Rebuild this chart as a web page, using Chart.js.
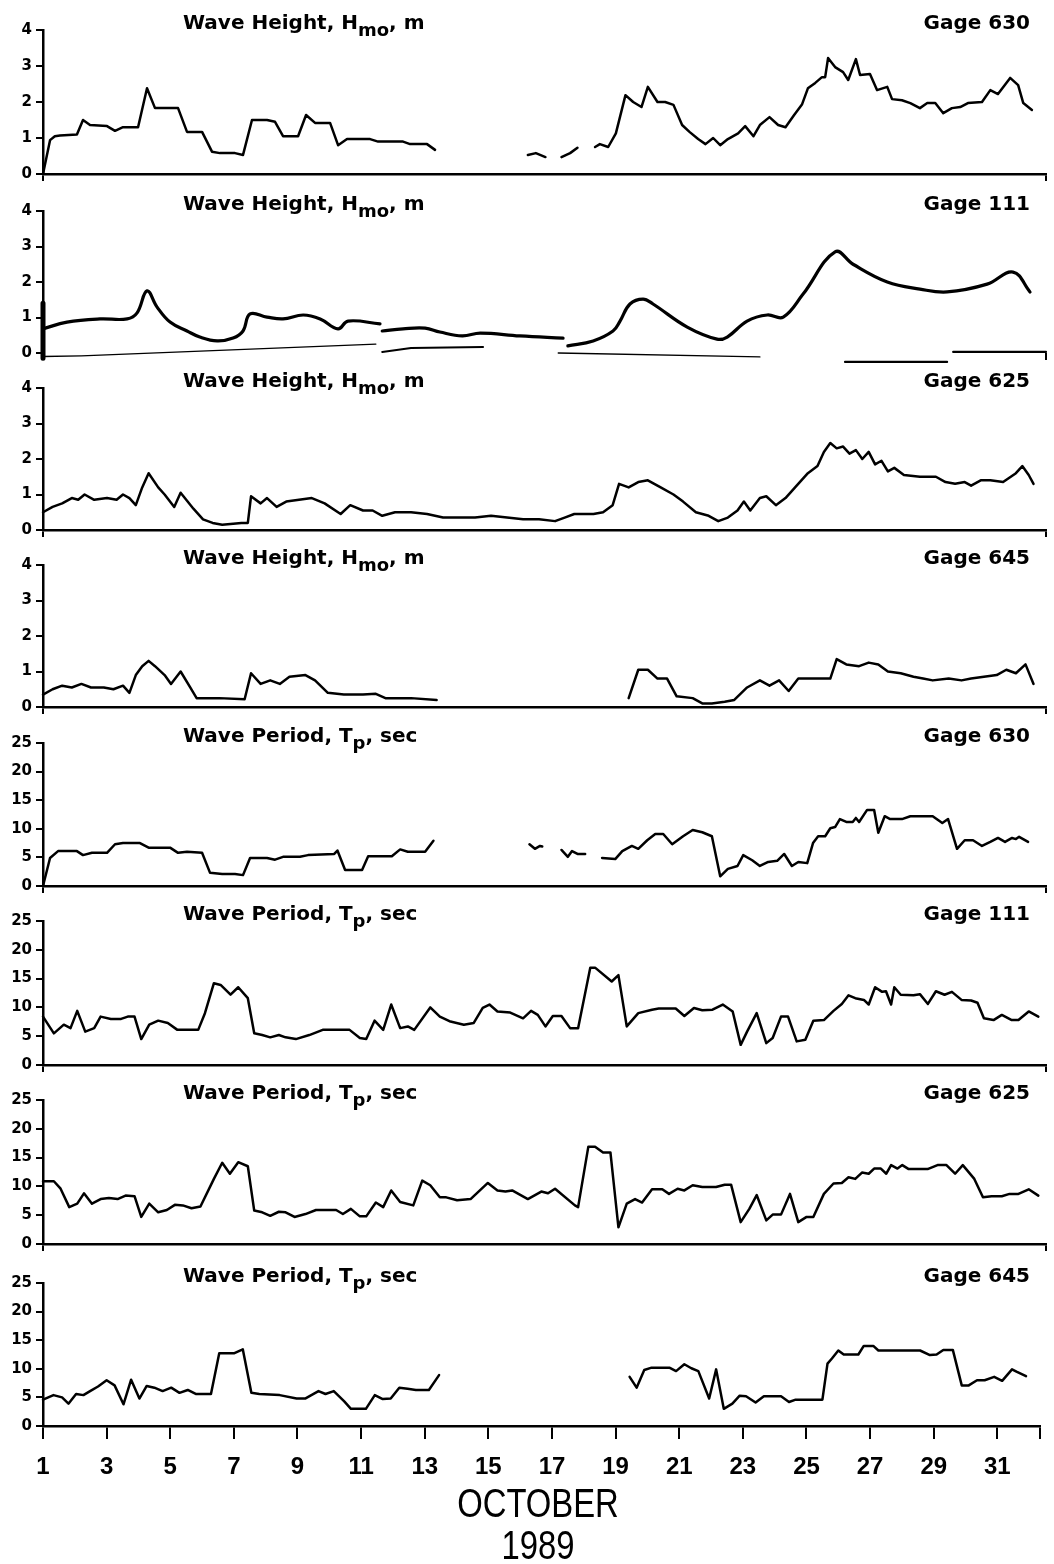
<!DOCTYPE html>
<html>
<head>
<meta charset="utf-8">
<script src="https://cdn.jsdelivr.net/npm/chart.js@4.4.0/dist/chart.umd.min.js"></script>
<style>
html, body { margin: 0; padding: 0; background: #fff; }
#page { position: relative; width: 1054px; height: 1564px; overflow: hidden; }
#page canvas { position: absolute; left: 0; }
.ttl, .gage { position: absolute; font-family: 'DejaVu Sans'; font-weight: bold; font-size: 20px; line-height: 1; white-space: nowrap; color: #000; }
.ttl sub { font-size: 18px; vertical-align: -7px; line-height: 0; }
.gage { right: 24px; }
.month { position: absolute; left: 388px; width: 300px; text-align: center; font-family: 'Liberation Sans'; font-size: 40px; line-height: 1; color: #000; transform: scaleX(0.82); transform-origin: 150px 0; }
</style>
</head>
<body>
<div id="page"></div>
<script>
// tick values
const DAY_TICKS = [1, 3, 5, 7, 9, 11, 13, 15, 17, 19, 21, 23, 25, 27, 29, 31];
const HEIGHT_TICKS = [0, 1, 2, 3, 4];
const PERIOD_TICKS = [0, 5, 10, 15, 20, 25];
const XMAX = 32.34;

// [day of October, value]; null = no data
const H630 = [[1,0],[1.22,0.94],[1.37,1.05],[1.53,1.07],[2.06,1.1],[2.25,1.5],[2.47,1.36],[3.0,1.33],[3.25,1.2],[3.5,1.3],[3.97,1.3],[4.25,2.38],[4.5,1.83],[5.22,1.83],[5.5,1.17],[5.97,1.17],[6.28,0.62],[6.53,0.58],[7.0,0.58],[7.25,0.53],[7.53,1.5],[8.0,1.5],[8.25,1.45],[8.5,1.05],[8.97,1.05],[9.22,1.64],[9.5,1.42],[9.97,1.42],[10.22,0.8],[10.5,0.97],[11.22,0.97],[11.47,0.9],[12.25,0.9],[12.47,0.83],[13.0,0.83],[13.25,0.67],[14,null],
  [16.15,0.53],[16.4,0.58],[16.7,0.47],[17,null],[17.2,0.47],[17.47,0.58],[17.7,0.73],[18,null],
  [18.25,0.75],[18.4,0.83],[18.66,0.75],[18.9,1.13],[19.2,2.19],[19.44,2.0],[19.7,1.86],[19.9,2.42],[20.2,2.0],[20.44,2.0],[20.7,1.92],[20.97,1.36],[21.2,1.17],[21.47,0.97],[21.7,0.83],[21.94,1.0],[22.16,0.8],[22.4,0.97],[22.72,1.13],[22.94,1.33],[23.2,1.05],[23.4,1.36],[23.7,1.58],[23.97,1.36],[24.2,1.3],[24.47,1.64],[24.72,1.94],[24.9,2.38],[25.13,2.53],[25.34,2.69],[25.44,2.69],[25.53,3.22],[25.75,2.97],[26.0,2.83],[26.16,2.61],[26.4,3.19],[26.53,2.75],[26.84,2.78],[27.06,2.33],[27.38,2.42],[27.53,2.08],[27.84,2.05],[28.1,1.97],[28.4,1.83],[28.63,1.97],[28.88,1.97],[29.13,1.69],[29.4,1.83],[29.66,1.86],[29.9,1.97],[30.34,2.0],[30.6,2.33],[30.84,2.22],[31.22,2.67],[31.47,2.47],[31.63,1.97],[31.9,1.78]];

const H111 = [[1.0,0.68],[1.75,0.87],[2.78,0.96],[3.63,0.96],[3.94,1.13],[4.25,1.75],[4.56,1.3],[4.97,0.87],[5.5,0.62],[5.9,0.45],[6.44,0.34],[6.94,0.42],[7.25,0.62],[7.47,1.1],[8.0,1.01],[8.5,0.96],[9.13,1.07],[9.66,0.96],[10.22,0.68],[10.53,0.9],[11.53,0.82],[11.56,null],
  [11.6,0.62],[12.25,0.68],[12.94,0.7],[13.4,0.59],[14.1,0.48],[14.66,0.56],[15.9,0.48],[17.25,0.42],[17.3,null],
  [17.4,0.2],[18.19,0.34],[18.81,0.62],[19.03,0.9],[19.34,1.38],[19.75,1.52],[20.06,1.38],[21.13,0.73],[22.06,0.39],[22.38,0.45],[23.0,0.9],[23.63,1.07],[24.13,1.01],[24.75,1.66],[25.75,2.85],[26.31,2.5],[27.38,2.0],[28.4,1.8],[29.25,1.72],[30.5,1.94],[31.31,2.28],[31.84,1.72]];
// broken baseline pieces of the Gage 111 trace
const H111_BASE_A = [[1,-0.1],[2.2,-0.08],[11.4,0.25]];
const H111_BASE_B = [[11.6,0.03],[12.5,0.14],[14.75,0.17]];
const H111_BASE_C = [[17.1,0.0],[23.4,-0.11]];
const H111_BASE_D = [[26.06,-0.25],[29.25,-0.25]];
const H111_BASE_E = [[29.44,0.03],[32.34,0.03]];
const H111_BLOB = [[1,1.4],[1,-0.15]];

const H625 = [[1,0.5],[1.3,0.65],[1.6,0.75],[1.9,0.9],[2.1,0.85],[2.3,1.0],[2.6,0.85],[3.0,0.9],[3.3,0.85],[3.5,1.0],[3.7,0.9],[3.9,0.7],[4.1,1.2],[4.3,1.6],[4.6,1.2],[4.8,1.0],[5.1,0.65],[5.3,1.05],[5.7,0.6],[6.0,0.3],[6.3,0.2],[6.6,0.15],[7.2,0.2],[7.4,0.2],[7.5,0.95],[7.8,0.75],[8.0,0.9],[8.3,0.65],[8.6,0.8],[9.0,0.85],[9.4,0.9],[9.8,0.75],[10.3,0.45],[10.6,0.7],[11.0,0.55],[11.3,0.55],[11.6,0.4],[12.0,0.5],[12.5,0.5],[13.0,0.45],[13.5,0.35],[14.0,0.35],[14.5,0.35],[15.0,0.4],[15.5,0.35],[16.0,0.3],[16.5,0.3],[17.0,0.25],[17.3,0.35],[17.6,0.45],[18.2,0.45],[18.5,0.5],[18.8,0.7],[19.0,1.3],[19.3,1.2],[19.6,1.35],[19.9,1.4],[20.3,1.2],[20.7,1.0],[21.0,0.8],[21.4,0.5],[21.8,0.4],[22.1,0.25],[22.4,0.35],[22.7,0.55],[22.9,0.8],[23.1,0.55],[23.4,0.9],[23.6,0.95],[23.9,0.7],[24.2,0.9],[24.5,1.2],[24.9,1.6],[25.2,1.8],[25.4,2.2],[25.6,2.45],[25.8,2.3],[26.0,2.35],[26.2,2.15],[26.4,2.25],[26.6,2.0],[26.8,2.2],[27.0,1.85],[27.2,1.95],[27.4,1.65],[27.6,1.75],[27.9,1.55],[28.4,1.5],[28.9,1.5],[29.2,1.35],[29.5,1.3],[29.8,1.35],[30.0,1.25],[30.3,1.4],[30.6,1.4],[31.0,1.35],[31.4,1.6],[31.6,1.8],[31.8,1.55],[31.95,1.3]];

const H645 = [[1.0,0.35],[1.3,0.5],[1.6,0.6],[1.9,0.55],[2.2,0.65],[2.5,0.55],[2.9,0.55],[3.2,0.5],[3.5,0.6],[3.7,0.4],[3.9,0.9],[4.1,1.15],[4.3,1.3],[4.5,1.15],[4.8,0.9],[5.0,0.65],[5.3,1.0],[5.6,0.55],[5.8,0.25],[6.5,0.25],[7.3,0.22],[7.5,0.95],[7.8,0.65],[8.1,0.75],[8.4,0.65],[8.7,0.85],[9.2,0.9],[9.5,0.75],[9.9,0.4],[10.4,0.35],[11.0,0.35],[11.4,0.37],[11.7,0.25],[12.5,0.25],[13.3,0.2],[15,null],
  [19.3,0.25],[19.6,1.05],[19.9,1.05],[20.2,0.8],[20.5,0.8],[20.8,0.3],[21.3,0.25],[21.6,0.1],[21.9,0.1],[22.3,0.15],[22.6,0.2],[23.0,0.55],[23.4,0.75],[23.7,0.6],[24.0,0.75],[24.3,0.45],[24.6,0.8],[25.0,0.8],[25.6,0.8],[25.8,1.35],[26.1,1.2],[26.5,1.15],[26.8,1.25],[27.1,1.2],[27.4,1.0],[27.8,0.95],[28.2,0.85],[28.5,0.8],[28.8,0.75],[29.3,0.8],[29.7,0.75],[30.0,0.8],[30.4,0.85],[30.8,0.9],[31.1,1.05],[31.4,0.95],[31.7,1.2],[31.95,0.65]];

const T630 = [[1,0],[1.22,4.9],[1.47,6.1],[2.06,6.1],[2.25,5.4],[2.53,5.8],[3.0,5.8],[3.25,7.3],[3.5,7.5],[4.03,7.5],[4.3,6.7],[4.97,6.7],[5.22,5.8],[5.5,6.0],[5.97,5.8],[6.22,2.3],[6.6,2.1],[7.0,2.1],[7.25,1.9],[7.47,4.9],[8.0,4.9],[8.25,4.6],[8.5,5.1],[9.03,5.1],[9.28,5.4],[10.1,5.6],[10.2,6.2],[10.44,2.8],[10.97,2.8],[11.16,5.2],[11.9,5.2],[12.16,6.4],[12.4,6.0],[12.94,6.0],[13.2,7.9],[14,null],
  [16.2,7.3],[16.37,6.5],[16.53,7.0],[16.6,6.9],[17,null],[17.2,6.3],[17.4,5.1],[17.53,6.1],[17.7,5.6],[17.94,5.6],[18.2,null],
  [18.47,4.9],[18.88,4.7],[19.1,6.1],[19.4,7.0],[19.6,6.5],[19.88,8.0],[20.13,9.1],[20.38,9.1],[20.66,7.3],[21.0,8.7],[21.3,9.8],[21.6,9.4],[21.9,8.7],[22.16,1.7],[22.4,3.0],[22.7,3.5],[22.88,5.4],[23.16,4.5],[23.4,3.5],[23.66,4.2],[23.94,4.4],[24.16,5.6],[24.4,3.5],[24.6,4.2],[24.88,4.0],[25.06,7.5],[25.22,8.7],[25.44,8.7],[25.6,10.1],[25.75,10.3],[25.9,11.7],[26.1,11.2],[26.3,11.2],[26.4,11.9],[26.5,11.2],[26.75,13.3],[26.97,13.3],[27.1,9.3],[27.3,12.2],[27.47,11.7],[27.84,11.7],[28.1,12.2],[28.8,12.2],[29.1,11.0],[29.28,11.7],[29.56,6.5],[29.8,8.0],[30.06,8.0],[30.34,7.0],[30.6,7.7],[30.84,8.4],[31.06,7.7],[31.28,8.4],[31.4,8.2],[31.5,8.6],[31.78,7.7]];

const T111 = [[1.0,8.4],[1.34,5.5],[1.65,7.0],[1.86,6.4],[2.07,9.4],[2.32,5.8],[2.6,6.4],[2.8,8.4],[3.12,8.0],[3.44,8.0],[3.65,8.4],[3.86,8.4],[4.07,4.5],[4.32,7.0],[4.6,7.7],[4.9,7.3],[5.2,6.1],[5.43,6.1],[5.85,6.1],[6.06,9.0],[6.34,14.2],[6.55,13.9],[6.86,12.2],[7.1,13.5],[7.4,11.6],[7.6,5.5],[7.85,5.2],[8.1,4.8],[8.37,5.2],[8.58,4.8],[8.9,4.5],[9.32,5.2],[9.74,6.1],[10.26,6.1],[10.58,6.1],[10.9,4.7],[11.1,4.5],[11.36,7.7],[11.63,6.1],[11.88,10.5],[12.16,6.4],[12.4,6.7],[12.6,6.1],[13.1,10.0],[13.4,8.4],[13.7,7.6],[14.15,7.0],[14.46,7.3],[14.74,9.9],[14.95,10.5],[15.2,9.3],[15.6,9.1],[16.0,8.1],[16.25,9.4],[16.46,8.7],[16.7,6.7],[16.93,8.5],[17.2,8.5],[17.47,6.4],[17.72,6.4],[18.1,16.9],[18.25,16.9],[18.77,14.5],[18.98,15.6],[19.24,6.7],[19.6,9.0],[20.03,9.6],[20.24,9.8],[20.77,9.8],[21.04,8.5],[21.34,9.9],[21.6,9.5],[21.92,9.6],[22.24,10.5],[22.55,9.3],[22.8,3.5],[23.0,5.8],[23.3,9.0],[23.6,3.8],[23.8,4.7],[24.06,8.4],[24.28,8.4],[24.55,4.1],[24.82,4.4],[25.07,7.7],[25.4,7.8],[25.7,9.4],[25.96,10.6],[26.17,12.1],[26.38,11.6],[26.65,11.3],[26.8,10.5],[27.0,13.5],[27.22,12.7],[27.34,12.8],[27.5,10.5],[27.6,13.5],[27.8,12.2],[28.2,12.1],[28.4,12.3],[28.65,10.6],[28.9,12.8],[29.17,12.2],[29.4,12.7],[29.7,11.3],[30.0,11.2],[30.2,10.8],[30.4,8.1],[30.7,7.8],[30.96,8.7],[31.27,7.8],[31.48,7.8],[31.8,9.3],[32.1,8.4]];

const T625 = [[1.0,10.9],[1.34,10.9],[1.55,9.6],[1.82,6.4],[2.07,7.0],[2.28,8.8],[2.53,7.0],[2.8,7.8],[3.06,8.0],[3.33,7.8],[3.58,8.4],[3.86,8.3],[4.07,4.7],[4.32,7.0],[4.6,5.5],[4.87,5.9],[5.12,6.8],[5.37,6.7],[5.64,6.2],[5.92,6.5],[6.34,11.3],[6.6,14.1],[6.84,12.2],[7.1,14.2],[7.4,13.5],[7.6,5.8],[7.85,5.5],[8.1,4.9],[8.37,5.6],[8.58,5.5],[8.86,4.7],[9.2,5.2],[9.53,5.9],[10.16,5.9],[10.37,5.2],[10.62,6.1],[10.9,4.8],[11.1,4.8],[11.4,7.2],[11.63,6.4],[11.88,9.3],[12.16,7.3],[12.57,6.7],[12.85,11.0],[13.1,10.2],[13.4,8.1],[13.6,8.1],[13.94,7.6],[14.36,7.8],[14.9,10.6],[15.2,9.3],[15.45,9.1],[15.66,9.3],[16.15,7.8],[16.57,9.1],[16.78,8.8],[17.0,9.6],[17.62,6.7],[17.72,6.4],[18.04,16.9],[18.25,16.9],[18.5,15.9],[18.73,15.9],[18.98,2.9],[19.24,7.0],[19.5,7.8],[19.72,7.2],[20.03,9.5],[20.35,9.5],[20.56,8.7],[20.83,9.6],[21.04,9.3],[21.3,10.2],[21.6,9.9],[22.03,9.9],[22.3,10.3],[22.5,10.3],[22.8,3.8],[23.07,6.1],[23.3,8.5],[23.6,4.1],[23.8,5.1],[24.06,5.1],[24.34,8.7],[24.6,3.8],[24.86,4.7],[25.07,4.7],[25.4,8.7],[25.7,10.5],[25.96,10.6],[26.17,11.6],[26.38,11.3],[26.59,12.4],[26.8,12.2],[26.97,13.1],[27.18,13.1],[27.35,12.2],[27.5,13.7],[27.7,13.1],[27.85,13.7],[28.05,13.0],[28.64,13.0],[28.95,13.7],[29.23,13.7],[29.5,12.2],[29.74,13.7],[30.1,11.3],[30.37,8.1],[30.64,8.3],[30.96,8.3],[31.2,8.7],[31.48,8.7],[31.8,9.5],[32.1,8.4]];

const T645 = [[1.0,4.6],[1.33,5.4],[1.6,5.0],[1.8,3.9],[2.04,5.6],[2.27,5.4],[2.48,6.1],[2.73,6.9],[3.0,8.0],[3.25,7.1],[3.53,3.8],[3.77,8.1],[4.03,4.8],[4.26,7.0],[4.5,6.7],[4.76,6.1],[5.03,6.7],[5.29,5.8],[5.55,6.3],[5.8,5.6],[6.28,5.6],[6.54,12.7],[7.0,12.7],[7.28,13.4],[7.55,5.8],[7.8,5.6],[8.44,5.4],[8.97,4.8],[9.24,4.8],[9.66,6.1],[9.88,5.6],[10.14,6.1],[10.47,4.3],[10.68,3.0],[11.15,3.0],[11.43,5.4],[11.68,4.7],[11.93,4.8],[12.2,6.7],[12.46,6.5],[12.72,6.3],[13.13,6.3],[13.45,8.9],[16,null],
  [19.44,8.6],[19.66,6.7],[19.9,9.8],[20.13,10.2],[20.69,10.2],[20.9,9.6],[21.16,10.8],[21.38,10.1],[21.6,9.6],[21.94,4.8],[22.16,9.9],[22.4,3.0],[22.67,3.9],[22.9,5.3],[23.1,5.2],[23.4,4.1],[23.66,5.2],[24.2,5.2],[24.45,4.2],[24.66,4.6],[25.5,4.6],[25.66,10.9],[25.8,11.8],[26.0,13.2],[26.17,12.5],[26.63,12.5],[26.8,14.0],[27.1,14.0],[27.26,13.2],[28.57,13.2],[28.88,12.4],[29.09,12.5],[29.3,13.3],[29.6,13.3],[29.88,7.1],[30.1,7.1],[30.36,8.0],[30.6,8.0],[30.9,8.6],[31.15,7.9],[31.46,9.9],[31.6,9.5],[31.9,8.7]];

const HT = 'Wave Height, H<sub>mo</sub>, m';
const PT = 'Wave Period, T<sub>p</sub>, sec';

// top / base = pixel rows of the top tick and the zero line
const panels = [
    { top: 30,   base: 174,  title: HT, gage: 'Gage 630', yt: HEIGHT_TICKS, lines: [{ data: H630 }] },
    { top: 211,  base: 353,  title: HT, gage: 'Gage 111', yt: HEIGHT_TICKS, noXLine: true, lines: [
        { data: H111, w: 3.2, tension: 0.4 },
        { data: H111_BASE_A, w: 1.4 }, { data: H111_BASE_B, w: 2 }, { data: H111_BASE_C, w: 1.4 },
        { data: H111_BASE_D, w: 2.2 }, { data: H111_BASE_E, w: 2.2 }, { data: H111_BLOB, w: 5 }
    ] },
    { top: 388,  base: 530,  title: HT, gage: 'Gage 625', yt: HEIGHT_TICKS, lines: [{ data: H625 }] },
    { top: 565,  base: 707,  title: HT, gage: 'Gage 645', yt: HEIGHT_TICKS, lines: [{ data: H645 }] },
    { top: 743,  base: 886,  title: PT, gage: 'Gage 630', yt: PERIOD_TICKS, lines: [{ data: T630 }] },
    { top: 921,  base: 1065, title: PT, gage: 'Gage 111', yt: PERIOD_TICKS, lines: [{ data: T111 }] },
    { top: 1100, base: 1244, title: PT, gage: 'Gage 625', yt: PERIOD_TICKS, lines: [{ data: T625 }] },
    { top: 1283, base: 1426, title: PT, gage: 'Gage 645', yt: PERIOD_TICKS, lines: [{ data: T645 }], last: true }
];

const page = document.getElementById('page');
const PAD_T = 20;

function addText(cls, html, top) {
    const d = document.createElement('div');
    d.className = cls;
    d.innerHTML = html;
    d.style.top = top + 'px';
    page.appendChild(d);
    return d;
}

panels.forEach(p => {
    const bottomH = p.last ? 64 : 14;
    const cv = document.createElement('canvas');
    cv.width = 1054;
    cv.height = p.base - p.top + PAD_T + bottomH;
    cv.style.top = (p.top - PAD_T) + 'px';
    page.appendChild(cv);

    const xt = p.last ? DAY_TICKS.concat([XMAX]) : [1, XMAX];

    new Chart(cv, {
        type: 'line',
        data: {
            datasets: p.lines.map(l => ({
                data: l.data,
                borderColor: '#000',
                borderWidth: l.w || 2.5,
                pointRadius: 0,
                tension: l.tension || 0,
                spanGaps: false,
                clip: 12,
                borderJoinStyle: 'round',
                borderCapStyle: 'round'
            }))
        },
        options: {
            responsive: false,
            animation: false,
            devicePixelRatio: 1,
            layout: { padding: { top: PAD_T, right: 8, left: 0, bottom: 0 } },
            plugins: { legend: { display: false }, tooltip: { enabled: false } },
            scales: {
                x: {
                    type: 'linear', min: 1, max: XMAX,
                    afterBuildTicks: s => { s.ticks = xt.map(v => ({ value: v })); },
                    afterFit: s => { s.height = bottomH; },
                    ticks: {
                        display: !!p.last, autoSkip: false, maxRotation: 0, padding: 14,
                        color: '#000',
                        font: { family: 'Liberation Sans', weight: 'bold', size: 24 },
                        callback: v => (v === XMAX ? '' : v)
                    },
                    grid: { drawOnChartArea: false, color: '#000', lineWidth: 2, tickLength: p.last ? 13 : 7 },
                    border: { display: !p.noXLine, color: '#000', width: 2.5 }
                },
                y: {
                    min: 0, max: p.yt[p.yt.length - 1],
                    afterBuildTicks: s => { s.ticks = p.yt.map(v => ({ value: v })); },
                    afterFit: s => { s.width = 43; },
                    ticks: { color: '#000', padding: 4, font: { family: 'DejaVu Sans', weight: 'bold', size: 15 } },
                    grid: { drawOnChartArea: false, color: '#000', lineWidth: 2, tickLength: 7 },
                    border: { color: '#000', width: 2.5 }
                }
            }
        }
    });

    // text baseline sits about one pixel above the top tick
    const t = addText('ttl', p.title, p.top - 1 - 17);
    t.style.left = '183px';
    addText('gage', p.gage, p.top - 1 - 17);
});

addText('month', 'OCTOBER', 1483);
addText('month', '1989', 1525);
</script>
</body>
</html>
